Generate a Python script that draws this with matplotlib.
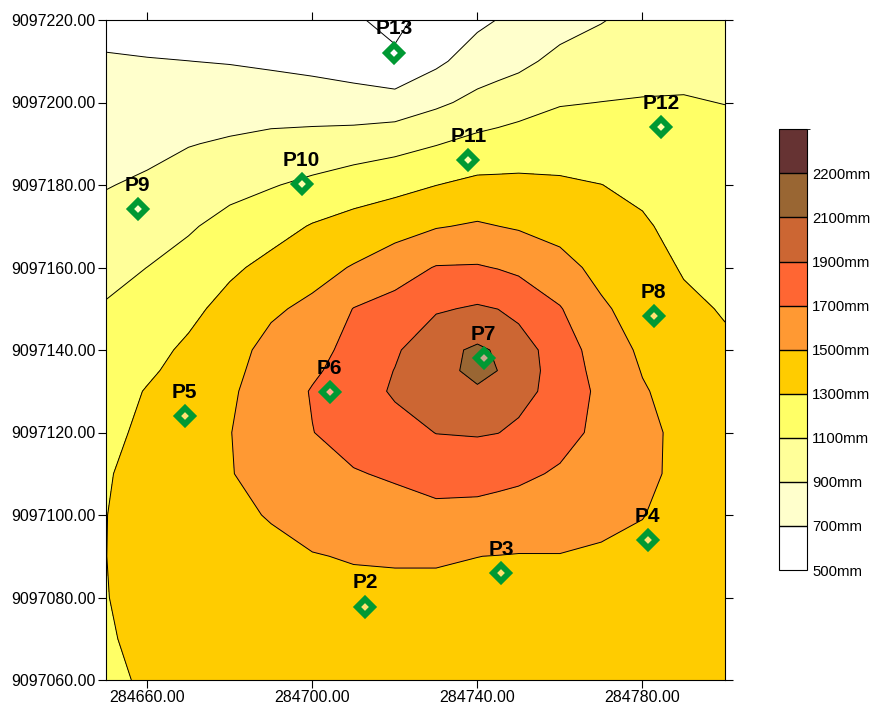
"""Isohyet map: gridded rainfall (mm) as filled contours, rain gauges P2-P13 on top."""
import matplotlib

matplotlib.use("Agg")

import matplotlib.pyplot as plt
import numpy as np
from matplotlib.cm import ScalarMappable
from matplotlib.colors import BoundaryNorm, ListedColormap
from matplotlib.ticker import FormatStrFormatter

plt.rcParams["font.family"] = ["Liberation Sans", "DejaVu Sans"]

# grid nodes (UTM easting / northing, metres); one extra line through the peak at P7
grid_easting = [284650, 284660, 284670, 284680, 284690, 284700, 284710, 284720,
                284730, 284740, 284745, 284750, 284760, 284770, 284780, 284790, 284800]
grid_northing = [9097060, 9097070, 9097080, 9097090, 9097100, 9097110, 9097120,
                 9097130, 9097135, 9097140, 9097150, 9097160, 9097170, 9097180,
                 9097190, 9097200, 9097210, 9097220]

# rainfall (mm), one row per northing (south -> north)
rain_mm = [
    [1265, 1322, 1345, 1360, 1375, 1385, 1395, 1400, 1398, 1395, 1392, 1390, 1382, 1375, 1365, 1355, 1345],
    [1288, 1330, 1360, 1380, 1400, 1415, 1425, 1432, 1433, 1430, 1428, 1425, 1418, 1408, 1395, 1380, 1370],
    [1296, 1345, 1380, 1405, 1425, 1450, 1460, 1470, 1470, 1466, 1463, 1460, 1455, 1440, 1425, 1405, 1390],
    [1299, 1350, 1395, 1425, 1455, 1493, 1510, 1512, 1512, 1501, 1497, 1492, 1494, 1475, 1460, 1425, 1405],
    [1298, 1350, 1405, 1460, 1512, 1560, 1598, 1624, 1650, 1639, 1626, 1613, 1586, 1548, 1505, 1440, 1410],
    [1290, 1345, 1405, 1490, 1580, 1629, 1687, 1724, 1776, 1777, 1757, 1737, 1678, 1610, 1545, 1450, 1410],
    [1265, 1330, 1400, 1495, 1600, 1696, 1775, 1828, 1904, 1915, 1903, 1866, 1765, 1655, 1550, 1450, 1395],
    [1225, 1310, 1380, 1475, 1590, 1712, 1800, 1925, 2020, 2070, 2040, 1960, 1830, 1655, 1515, 1430, 1365],
    [1200, 1275, 1357, 1455, 1573, 1672, 1780, 1905, 2020, 2160, 2098, 1995, 1815, 1632, 1492, 1405, 1345],
    [1175, 1240, 1334, 1435, 1555, 1633, 1760, 1874, 2040, 2130, 2080, 1990, 1800, 1610, 1468, 1380, 1325],
    [1115, 1171, 1251, 1365, 1472, 1541, 1705, 1767, 1879, 1922, 1898, 1848, 1712, 1528, 1419, 1334, 1288],
    [1047, 1101, 1166, 1266, 1354, 1433, 1513, 1616, 1710, 1715, 1692, 1661, 1565, 1445, 1371, 1286, 1250],
    [967, 1016, 1080, 1159, 1226, 1313, 1370, 1420, 1488, 1521, 1501, 1482, 1434, 1373, 1323, 1241, 1210],
    [891, 930, 986, 1044, 1088, 1141, 1204, 1247, 1298, 1346, 1345, 1344, 1327, 1302, 1261, 1196, 1172],
    [832, 847, 892, 921, 951, 969, 991, 1032, 1091, 1155, 1173, 1191, 1209, 1201, 1186, 1152, 1135],
    [772, 780, 797, 805, 811, 804, 789, 784, 864, 952, 987, 1022, 1088, 1102, 1111, 1107, 1098],
    [713, 707, 701, 691, 669, 641, 600, 525, 662, 793, 822, 852, 954, 995, 1030, 1070, 1075],
    [654, 635, 605, 577, 527, 510, 515, 465, 560, 660, 705, 740, 820, 890, 960, 1040, 1050],
]

station_names = ["P2", "P3", "P4", "P5", "P6", "P7", "P8", "P9", "P10", "P11", "P12", "P13"]
station_easting = [284712.8, 284745.8, 284781.3, 284669.1, 284704.2, 284741.5,
                   284782.7, 284657.7, 284697.4, 284737.8, 284784.5, 284719.8]
station_northing = [9097077.8, 9097085.9, 9097093.9, 9097124.0, 9097129.8, 9097138.0,
                    9097148.2, 9097174.1, 9097180.2, 9097186.1, 9097194.1, 9097212.1]

level_bounds = [500, 700, 900, 1100, 1300, 1500, 1700, 1900, 2100, 2200, 2300]
level_colors = ["#FFFFFF", "#FFFFCC", "#FFFF99", "#FFFF66", "#FFCC00",
                "#FF9933", "#FF6633", "#CC6633", "#996633", "#663333"]

x_ticks = [284660, 284700, 284740, 284780]
y_ticks = [9097060, 9097080, 9097100, 9097120, 9097140, 9097160, 9097180, 9097200, 9097220]

fig = plt.figure(figsize=(8.76, 7.06), dpi=100)
ax = fig.add_axes([106 / 876, 26 / 706, 619 / 876, 660 / 706])

z = np.array(rain_mm, dtype=float)
# lowest band is white, also below 500 mm (small pocket around P13)
fill_levels = [0] + level_bounds[1:]
ax.contourf(grid_easting, grid_northing, z, levels=fill_levels, colors=level_colors)
ax.contour(grid_easting, grid_northing, z, levels=level_bounds[:-1], colors="black",
           linewidths=0.7)

ax.plot(station_easting, station_northing, linestyle="none", marker="D",
        markersize=8.5, markerfacecolor=(1, 1, 1, 0.45), markeredgecolor="#009933",
        markeredgewidth=4.2, zorder=5)
for name, e, n in zip(station_names, station_easting, station_northing):
    ax.annotate(name, (e, n), xytext=(0, 17), textcoords="offset points", ha="center",
                va="center", fontsize=15, fontweight="bold", color="black", zorder=6)

ax.set_xlim(284650, 284800)
ax.set_ylim(9097060, 9097220)
ax.set_xticks(x_ticks)
ax.set_yticks(y_ticks)
ax.xaxis.set_major_formatter(FormatStrFormatter("%.2f"))
ax.yaxis.set_major_formatter(FormatStrFormatter("%.2f"))
ax.tick_params(direction="out", length=5.8, width=0.8, top=True, right=True,
               labeltop=False, labelright=False, labelsize=11.5, pad=1.5)
for spine in ax.spines.values():
    spine.set_linewidth(0.8)

cax = fig.add_axes([779 / 876, 136 / 706, 27.5 / 876, 440.7 / 706])
mappable = ScalarMappable(norm=BoundaryNorm(level_bounds, len(level_colors)),
                          cmap=ListedColormap(level_colors))
cb = fig.colorbar(mappable, cax=cax, spacing="uniform", drawedges=True,
                  ticks=level_bounds[:-1])
cb.set_ticklabels([f"{v}mm" for v in level_bounds[:-1]])
cax.tick_params(length=0, labelsize=10.7, pad=4)
cb.outline.set_linewidth(0.8)
cb.dividers.set_linewidth(1.0)

fig.savefig("out.png", dpi=100)
plt.close(fig)
